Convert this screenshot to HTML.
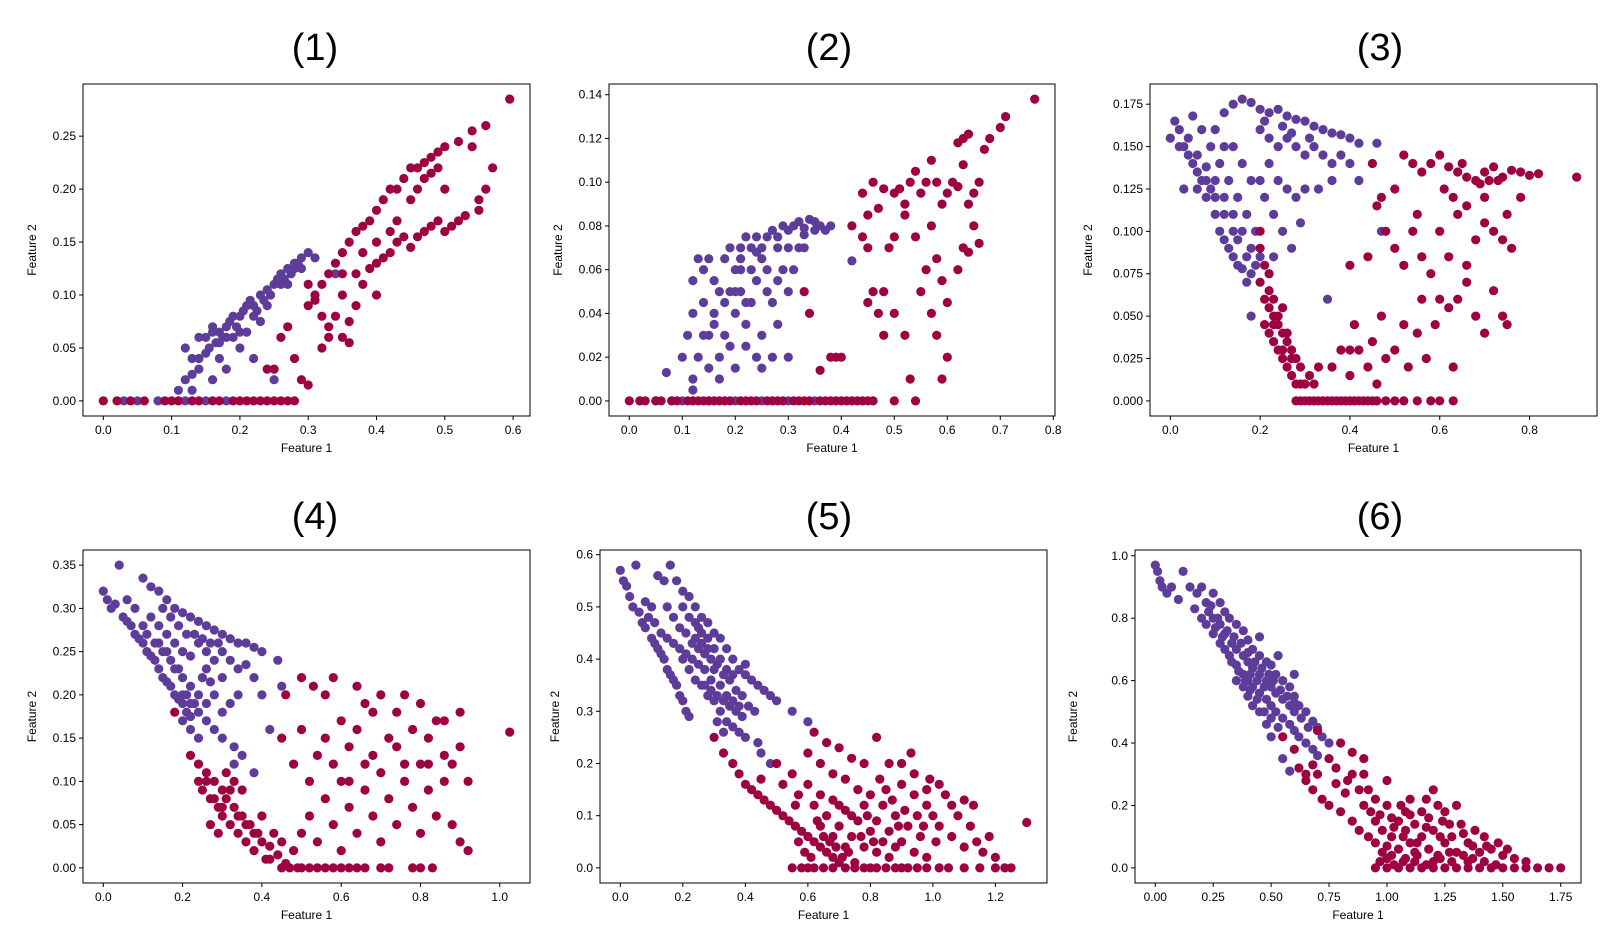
<!DOCTYPE html>
<html><head><meta charset="utf-8">
<style>
body{margin:0;background:#fff;}
svg{display:block;font-family:"Liberation Sans","DejaVu Sans",sans-serif;}
</style></head>
<body>
<svg id="fig" width="1620" height="932" viewBox="0 0 1620 932"></svg>
<script>
// ---------- data ----------
const panelTitles = ["(1)","(2)","(3)","(4)","(5)","(6)"];
const xTicks = [[0,0.1,0.2,0.3,0.4,0.5,0.6],[0,0.1,0.2,0.3,0.4,0.5,0.6,0.7,0.8],[0,0.2,0.4,0.6,0.8],[0,0.2,0.4,0.6,0.8,1.0],[0,0.2,0.4,0.6,0.8,1.0,1.2],[0,0.25,0.5,0.75,1.0,1.25,1.5,1.75]];
const xTickLabels = [["0.0","0.1","0.2","0.3","0.4","0.5","0.6"],["0.0","0.1","0.2","0.3","0.4","0.5","0.6","0.7","0.8"],["0.0","0.2","0.4","0.6","0.8"],["0.0","0.2","0.4","0.6","0.8","1.0"],["0.0","0.2","0.4","0.6","0.8","1.0","1.2"],["0.00","0.25","0.50","0.75","1.00","1.25","1.50","1.75"]];
const yTicks = [[0,0.05,0.1,0.15,0.2,0.25],[0,0.02,0.04,0.06,0.08,0.1,0.12,0.14],[0,0.025,0.05,0.075,0.1,0.125,0.15,0.175],[0,0.05,0.1,0.15,0.2,0.25,0.3,0.35],[0,0.1,0.2,0.3,0.4,0.5,0.6],[0,0.2,0.4,0.6,0.8,1.0]];
const yTickLabels = [["0.00","0.05","0.10","0.15","0.20","0.25"],["0.00","0.02","0.04","0.06","0.08","0.10","0.12","0.14"],["0.000","0.025","0.050","0.075","0.100","0.125","0.150","0.175"],["0.00","0.05","0.10","0.15","0.20","0.25","0.30","0.35"],["0.0","0.1","0.2","0.3","0.4","0.5","0.6"],["0.0","0.2","0.4","0.6","0.8","1.0"]];

const p1Purple = [0.12,0.05,0.13,0.04,0.14,0.06,0.15,0.06,0.16,0.07,0.17,0.065,0.18,0.07,0.19,0.08,0.2,0.08,0.21,0.09,0.22,0.09,0.23,0.1,0.24,0.105,0.25,0.11,0.26,0.12,0.27,0.125,0.28,0.13,0.29,0.135,0.3,0.14,0.155,0.05,0.165,0.055,0.175,0.06,0.185,0.075,0.195,0.07,0.205,0.085,0.215,0.095,0.225,0.085,0.235,0.095,0.245,0.1,0.255,0.115,0.265,0.115,0.275,0.12,0.285,0.13,0.31,0.135,0.12,0.02,0.13,0.01,0.14,0.03,0.16,0.02,0.17,0.04,0.18,0.03,0.2,0.05,0.22,0.04,0.25,0.02,0.11,0.01,0.15,0.0,0.05,0,0.03,0,0.08,0,0.12,0,0.18,0,0.21,0.065,0.23,0.075,0.16,0.065,0.19,0.06,0.26,0.11,0.28,0.125,0.34,0.12,0.17,0.055,0.18,0.06,0.2,0.065,0.22,0.08,0.24,0.09,0.27,0.11,0.29,0.125,0.15,0.045,0.14,0.04,0.13,0.025];
const p1Red = [0,0,0.02,0,0.04,0,0.06,0,0.09,0,0.1,0,0.11,0,0.13,0,0.14,0,0.16,0,0.17,0,0.19,0,0.2,0,0.21,0,0.22,0,0.23,0,0.24,0,0.25,0,0.26,0,0.27,0,0.28,0,0.3,0.09,0.31,0.1,0.32,0.11,0.33,0.12,0.34,0.13,0.35,0.14,0.36,0.15,0.37,0.16,0.38,0.165,0.39,0.17,0.4,0.18,0.41,0.19,0.42,0.2,0.43,0.2,0.44,0.21,0.45,0.22,0.46,0.22,0.47,0.225,0.48,0.23,0.49,0.235,0.5,0.24,0.52,0.245,0.54,0.255,0.56,0.26,0.595,0.285,0.35,0.1,0.37,0.12,0.38,0.11,0.39,0.125,0.4,0.13,0.41,0.135,0.42,0.14,0.43,0.15,0.44,0.155,0.45,0.145,0.46,0.155,0.47,0.16,0.48,0.165,0.49,0.17,0.5,0.16,0.51,0.165,0.52,0.17,0.53,0.175,0.55,0.18,0.56,0.2,0.57,0.22,0.3,0.11,0.32,0.08,0.33,0.07,0.34,0.08,0.35,0.06,0.32,0.05,0.33,0.06,0.28,0.04,0.27,0.07,0.26,0.06,0.25,0.03,0.24,0.03,0.29,0.02,0.3,0.015,0.36,0.075,0.37,0.09,0.4,0.1,0.43,0.17,0.46,0.2,0.48,0.215,0.5,0.2,0.54,0.24,0.55,0.19,0.36,0.055,0.38,0.14,0.4,0.15,0.42,0.16,0.45,0.19,0.47,0.21,0.49,0.22,0.35,0.12,0.31,0.095];

const p2Purple = [0.1,0.02,0.11,0.03,0.12,0.04,0.12,0.055,0.13,0.065,0.14,0.06,0.14,0.045,0.15,0.03,0.15,0.065,0.16,0.055,0.16,0.04,0.17,0.05,0.17,0.02,0.18,0.065,0.18,0.03,0.19,0.07,0.19,0.05,0.2,0.04,0.2,0.06,0.21,0.07,0.21,0.05,0.22,0.075,0.22,0.035,0.23,0.06,0.23,0.045,0.24,0.075,0.24,0.055,0.25,0.07,0.25,0.03,0.26,0.075,0.26,0.06,0.27,0.078,0.27,0.045,0.28,0.07,0.28,0.035,0.29,0.08,0.29,0.06,0.3,0.078,0.3,0.05,0.31,0.08,0.32,0.082,0.32,0.07,0.33,0.079,0.34,0.083,0.35,0.082,0.36,0.08,0.37,0.078,0.38,0.08,0.13,0.02,0.15,0.015,0.17,0.01,0.2,0.015,0.22,0.025,0.25,0.015,0.27,0.02,0.07,0.013,0.12,0.01,0.3,0.02,0.24,0.02,0.19,0.025,0.16,0.035,0.14,0.03,0.2,0.05,0.23,0.07,0.26,0.05,0.28,0.055,0.31,0.06,0.33,0.07,0.21,0.06,0.18,0.045,0.12,0.005,0.02,0,0.05,0,0.1,0,0.15,0,0.2,0,0.25,0,0.3,0,0.35,0,0.42,0.064,0.08,0,0.22,0.045,0.25,0.065,0.28,0.075,0.3,0.07,0.33,0.076,0.35,0.078,0.24,0.068,0.21,0.065];
const p2Red = [0,0,0.03,0,0.06,0,0.09,0,0.12,0,0.14,0,0.16,0,0.18,0,0.21,0,0.23,0,0.26,0,0.28,0,0.31,0,0.33,0,0.36,0,0.38,0,0.4,0,0.42,0,0.44,0,0.46,0,0.5,0,0.54,0,0.02,0,0.05,0,0.08,0,0.11,0,0.13,0,0.15,0,0.17,0,0.19,0,0.22,0,0.24,0,0.27,0,0.29,0,0.32,0,0.34,0,0.37,0,0.39,0,0.41,0,0.43,0,0.45,0,0.33,0.05,0.34,0.04,0.38,0.02,0.39,0.02,0.36,0.014,0.4,0.02,0.42,0.08,0.44,0.075,0.44,0.095,0.45,0.085,0.46,0.1,0.47,0.088,0.48,0.097,0.5,0.095,0.51,0.097,0.52,0.09,0.53,0.1,0.54,0.105,0.55,0.095,0.56,0.1,0.57,0.11,0.58,0.1,0.59,0.09,0.6,0.095,0.61,0.1,0.62,0.098,0.63,0.108,0.64,0.09,0.65,0.095,0.66,0.1,0.62,0.118,0.63,0.12,0.64,0.122,0.67,0.115,0.68,0.12,0.7,0.125,0.71,0.13,0.765,0.138,0.45,0.07,0.46,0.05,0.47,0.04,0.48,0.05,0.5,0.04,0.52,0.03,0.53,0.01,0.55,0.05,0.57,0.04,0.58,0.065,0.59,0.055,0.6,0.045,0.62,0.06,0.63,0.07,0.64,0.068,0.65,0.08,0.56,0.06,0.58,0.03,0.6,0.02,0.59,0.01,0.49,0.07,0.5,0.075,0.54,0.075,0.57,0.08,0.66,0.072,0.45,0.045,0.52,0.085,0.48,0.03];

const p3Purple = [0.0,0.155,0.01,0.165,0.02,0.16,0.03,0.15,0.04,0.145,0.05,0.14,0.06,0.135,0.07,0.13,0.08,0.12,0.09,0.125,0.1,0.11,0.11,0.1,0.12,0.095,0.13,0.09,0.14,0.085,0.15,0.08,0.16,0.078,0.17,0.07,0.18,0.075,0.06,0.145,0.08,0.138,0.1,0.13,0.12,0.12,0.14,0.11,0.16,0.1,0.18,0.09,0.2,0.085,0.13,0.13,0.15,0.12,0.17,0.11,0.19,0.1,0.11,0.14,0.09,0.15,0.07,0.16,0.05,0.168,0.12,0.17,0.14,0.175,0.16,0.178,0.18,0.176,0.2,0.172,0.22,0.17,0.24,0.172,0.26,0.168,0.28,0.166,0.3,0.165,0.32,0.162,0.34,0.16,0.36,0.158,0.38,0.157,0.4,0.155,0.42,0.152,0.46,0.152,0.2,0.16,0.22,0.155,0.24,0.15,0.26,0.155,0.28,0.15,0.3,0.145,0.32,0.15,0.34,0.145,0.36,0.14,0.38,0.145,0.4,0.14,0.22,0.14,0.24,0.13,0.26,0.125,0.28,0.12,0.3,0.125,0.33,0.125,0.36,0.13,0.21,0.12,0.23,0.11,0.25,0.1,0.27,0.09,0.18,0.13,0.2,0.13,0.16,0.14,0.14,0.15,0.12,0.15,0.1,0.16,0.42,0.13,0.29,0.105,0.47,0.1,0.35,0.06,0.23,0.085,0.18,0.05,0.02,0.15,0.03,0.125,0.04,0.155,0.06,0.125,0.08,0.13,0.1,0.12,0.12,0.11,0.14,0.1,0.15,0.095,0.17,0.085,0.19,0.08,0.21,0.165,0.25,0.162,0.27,0.158,0.31,0.155];
const p3Red = [0.2,0.1,0.21,0.08,0.22,0.075,0.2,0.07,0.21,0.06,0.22,0.055,0.23,0.05,0.21,0.045,0.22,0.04,0.23,0.035,0.24,0.045,0.25,0.04,0.24,0.03,0.25,0.025,0.26,0.02,0.27,0.03,0.27,0.015,0.28,0.01,0.29,0.02,0.3,0.01,0.25,0.055,0.23,0.06,0.26,0.035,0.28,0.025,0.31,0.015,0.32,0.01,0.33,0.02,0.28,0,0.29,0,0.3,0,0.31,0,0.32,0,0.33,0,0.34,0,0.35,0,0.36,0,0.37,0,0.38,0,0.39,0,0.4,0,0.41,0,0.42,0,0.43,0,0.44,0,0.45,0,0.46,0,0.48,0,0.5,0,0.52,0,0.55,0,0.58,0,0.6,0,0.63,0,0.36,0.02,0.38,0.03,0.4,0.015,0.41,0.045,0.42,0.03,0.44,0.02,0.45,0.035,0.46,0.01,0.47,0.05,0.48,0.025,0.5,0.03,0.52,0.045,0.53,0.02,0.55,0.04,0.56,0.06,0.57,0.025,0.59,0.045,0.6,0.06,0.62,0.055,0.64,0.06,0.66,0.07,0.68,0.05,0.7,0.04,0.72,0.065,0.74,0.05,0.75,0.045,0.4,0.08,0.44,0.085,0.48,0.1,0.5,0.09,0.52,0.08,0.54,0.1,0.56,0.085,0.58,0.075,0.6,0.1,0.62,0.085,0.64,0.11,0.66,0.08,0.68,0.095,0.7,0.105,0.72,0.1,0.74,0.095,0.76,0.09,0.52,0.145,0.54,0.14,0.56,0.135,0.58,0.14,0.6,0.145,0.62,0.138,0.64,0.135,0.66,0.132,0.68,0.13,0.7,0.135,0.72,0.138,0.74,0.132,0.76,0.136,0.78,0.135,0.8,0.133,0.82,0.134,0.905,0.132,0.61,0.125,0.63,0.12,0.66,0.115,0.7,0.12,0.75,0.11,0.78,0.12,0.45,0.14,0.47,0.12,0.5,0.125,0.55,0.11,0.46,0.115,0.4,0.03,0.63,0.02,0.2,0.09,0.22,0.065,0.24,0.05,0.26,0.04,0.23,0.045,0.25,0.03,0.27,0.025,0.29,0.01,0.69,0.128,0.71,0.13,0.73,0.13,0.65,0.14];

const p4Purple = [0,0.32,0.01,0.31,0.02,0.3,0.03,0.305,0.04,0.35,0.05,0.29,0.06,0.285,0.07,0.28,0.08,0.27,0.09,0.265,0.1,0.26,0.11,0.25,0.12,0.245,0.13,0.24,0.14,0.23,0.15,0.22,0.16,0.215,0.17,0.21,0.18,0.2,0.19,0.195,0.2,0.19,0.21,0.18,0.22,0.175,0.1,0.335,0.12,0.325,0.14,0.32,0.16,0.31,0.18,0.3,0.2,0.295,0.22,0.29,0.24,0.285,0.26,0.28,0.28,0.275,0.3,0.27,0.32,0.265,0.34,0.26,0.36,0.26,0.38,0.255,0.4,0.25,0.44,0.24,0.12,0.29,0.14,0.28,0.16,0.27,0.18,0.26,0.2,0.25,0.22,0.245,0.24,0.26,0.26,0.25,0.28,0.24,0.3,0.25,0.32,0.24,0.34,0.23,0.36,0.235,0.38,0.22,0.18,0.23,0.2,0.22,0.22,0.21,0.24,0.2,0.26,0.19,0.28,0.2,0.3,0.18,0.32,0.19,0.2,0.17,0.22,0.16,0.24,0.15,0.26,0.17,0.28,0.16,0.3,0.15,0.33,0.14,0.35,0.13,0.4,0.2,0.42,0.16,0.45,0.21,0.38,0.11,0.33,0.12,0.16,0.25,0.14,0.26,0.08,0.3,0.06,0.31,0.26,0.23,0.3,0.22,0.34,0.2,0.15,0.3,0.17,0.29,0.19,0.28,0.21,0.27,0.23,0.27,0.25,0.265,0.27,0.26,0.29,0.26,0.2,0.2,0.22,0.19,0.24,0.18,0.25,0.22,0.27,0.215,0.1,0.28,0.11,0.27,0.13,0.26,0.15,0.25,0.17,0.24,0.19,0.23,0.21,0.2,0.23,0.19];
const p4Red = [0.18,0.18,0.22,0.13,0.24,0.12,0.26,0.11,0.25,0.09,0.27,0.08,0.28,0.1,0.29,0.07,0.3,0.09,0.3,0.06,0.31,0.08,0.32,0.05,0.33,0.07,0.34,0.04,0.35,0.06,0.36,0.03,0.37,0.05,0.38,0.02,0.39,0.04,0.4,0.03,0.41,0.01,0.42,0.025,0.43,0.04,0.44,0.015,0.45,0.03,0.46,0.005,0.33,0.1,0.35,0.09,0.31,0.11,0.29,0.04,0.27,0.05,0.45,0,0.47,0,0.49,0,0.5,0,0.52,0,0.54,0,0.56,0,0.58,0,0.6,0,0.62,0,0.64,0,0.66,0,0.7,0,0.72,0,0.78,0,0.8,0,0.83,0,0.48,0.02,0.5,0.04,0.52,0.06,0.54,0.03,0.56,0.08,0.58,0.05,0.6,0.1,0.6,0.02,0.62,0.07,0.64,0.04,0.66,0.09,0.68,0.06,0.7,0.11,0.7,0.03,0.72,0.08,0.74,0.05,0.76,0.1,0.78,0.07,0.8,0.12,0.8,0.04,0.82,0.09,0.84,0.06,0.86,0.1,0.88,0.05,0.9,0.03,0.92,0.02,0.52,0.1,0.54,0.13,0.56,0.15,0.58,0.12,0.6,0.17,0.62,0.14,0.64,0.16,0.66,0.19,0.68,0.13,0.7,0.2,0.72,0.15,0.74,0.18,0.76,0.2,0.78,0.16,0.8,0.19,0.82,0.15,0.84,0.17,0.86,0.13,0.88,0.12,0.9,0.18,0.92,0.1,0.48,0.12,0.5,0.16,0.5,0.22,0.53,0.21,0.56,0.2,0.58,0.22,0.64,0.21,0.68,0.18,0.74,0.14,0.82,0.12,0.86,0.17,1.025,0.157,0.45,0.15,0.46,0.2,0.62,0.1,0.66,0.12,0.76,0.12,0.9,0.14,0.3,0.07,0.32,0.09,0.34,0.06,0.36,0.05,0.38,0.04,0.4,0.06,0.42,0.01,0.28,0.08,0.26,0.1,0.24,0.1];

const p5Purple = [0,0.57,0.01,0.55,0.02,0.54,0.03,0.52,0.04,0.5,0.05,0.58,0.06,0.49,0.07,0.47,0.08,0.46,0.1,0.44,0.11,0.43,0.12,0.42,0.13,0.41,0.14,0.4,0.15,0.38,0.16,0.37,0.17,0.36,0.18,0.35,0.19,0.33,0.2,0.32,0.21,0.3,0.22,0.29,0.12,0.56,0.14,0.55,0.16,0.58,0.18,0.55,0.2,0.53,0.22,0.52,0.24,0.5,0.26,0.48,0.28,0.47,0.3,0.45,0.32,0.44,0.34,0.42,0.36,0.4,0.38,0.38,0.4,0.37,0.42,0.36,0.44,0.35,0.46,0.34,0.48,0.33,0.5,0.32,0.55,0.3,0.6,0.28,0.15,0.5,0.17,0.48,0.19,0.46,0.21,0.45,0.23,0.43,0.25,0.42,0.27,0.41,0.29,0.4,0.31,0.39,0.33,0.37,0.35,0.36,0.37,0.34,0.39,0.33,0.41,0.31,0.43,0.3,0.2,0.4,0.22,0.38,0.24,0.36,0.26,0.35,0.28,0.33,0.3,0.32,0.32,0.3,0.34,0.28,0.36,0.27,0.38,0.26,0.3,0.42,0.32,0.4,0.34,0.38,0.36,0.37,0.27,0.38,0.29,0.36,0.31,0.28,0.33,0.26,0.4,0.25,0.44,0.24,0.48,0.2,0.45,0.22,0.1,0.5,0.08,0.51,0.25,0.46,0.4,0.39,0.09,0.48,0.11,0.47,0.13,0.45,0.15,0.44,0.17,0.43,0.19,0.42,0.21,0.41,0.23,0.4,0.25,0.39,0.27,0.35,0.29,0.34,0.31,0.33,0.33,0.32,0.35,0.31,0.37,0.3,0.39,0.29,0.24,0.44,0.26,0.43,0.28,0.42,0.3,0.38,0.32,0.35,0.34,0.33,0.36,0.32,0.38,0.31,0.2,0.5,0.22,0.48,0.24,0.47,0.26,0.45,0.28,0.44];
const p5Red = [0.3,0.25,0.33,0.22,0.36,0.2,0.38,0.18,0.4,0.16,0.42,0.15,0.44,0.14,0.46,0.13,0.48,0.12,0.5,0.11,0.52,0.1,0.54,0.09,0.56,0.08,0.58,0.07,0.6,0.06,0.62,0.05,0.64,0.04,0.66,0.03,0.68,0.02,0.7,0.01,0.55,0,0.58,0,0.6,0,0.62,0,0.65,0,0.68,0,0.72,0,0.75,0,0.78,0,0.8,0,0.82,0,0.85,0,0.88,0,0.9,0,0.92,0,0.95,0,0.98,0,1.02,0,1.05,0,1.1,0,1.15,0,1.2,0,1.23,0,1.25,0,0.5,0.2,0.52,0.16,0.55,0.18,0.57,0.14,0.6,0.16,0.62,0.12,0.64,0.14,0.66,0.1,0.68,0.13,0.7,0.08,0.72,0.11,0.74,0.06,0.76,0.09,0.78,0.04,0.8,0.07,0.82,0.03,0.84,0.05,0.86,0.02,0.88,0.04,0.6,0.22,0.62,0.26,0.64,0.2,0.66,0.24,0.68,0.18,0.7,0.23,0.72,0.17,0.74,0.21,0.76,0.15,0.78,0.2,0.8,0.14,0.82,0.25,0.84,0.12,0.86,0.2,0.88,0.1,0.9,0.16,0.92,0.08,0.94,0.14,0.96,0.06,0.98,0.12,1.0,0.1,1.02,0.08,1.04,0.14,1.06,0.06,1.08,0.1,1.1,0.04,1.12,0.08,1.14,0.05,1.16,0.03,1.18,0.06,1.2,0.02,0.9,0.2,0.94,0.18,0.98,0.15,1.02,0.16,1.06,0.12,1.1,0.13,1.13,0.12,0.7,0.12,0.74,0.1,0.78,0.12,0.82,0.09,0.86,0.07,0.9,0.05,0.94,0.03,0.98,0.02,1.3,0.087,0.64,0.08,0.68,0.06,0.72,0.04,0.56,0.12,0.45,0.17,0.57,0.05,0.59,0.03,0.61,0.02,0.63,0.09,0.65,0.06,0.67,0.05,0.69,0.04,0.71,0.02,0.73,0.03,0.75,0.01,0.77,0.06,0.79,0.1,0.81,0.05,0.83,0.17,0.85,0.15,0.87,0.13,0.89,0.08,0.91,0.11,0.93,0.22,0.95,0.1,0.97,0.08,0.99,0.17,1.01,0.05];

const p6Purple = [0,0.97,0.01,0.95,0.02,0.92,0.03,0.9,0.05,0.88,0.07,0.9,0.1,0.86,0.12,0.95,0.15,0.9,0.17,0.83,0.2,0.8,0.22,0.78,0.25,0.75,0.28,0.72,0.3,0.7,0.32,0.68,0.35,0.65,0.38,0.62,0.4,0.6,0.42,0.58,0.45,0.56,0.48,0.54,0.5,0.52,0.52,0.5,0.55,0.48,0.58,0.46,0.6,0.44,0.62,0.42,0.65,0.4,0.68,0.38,0.7,0.36,0.2,0.9,0.25,0.88,0.28,0.85,0.3,0.82,0.32,0.8,0.35,0.78,0.38,0.76,0.4,0.73,0.42,0.7,0.45,0.68,0.48,0.66,0.5,0.65,0.52,0.62,0.55,0.6,0.58,0.58,0.6,0.55,0.62,0.52,0.65,0.5,0.68,0.47,0.7,0.45,0.72,0.42,0.75,0.4,0.25,0.8,0.28,0.78,0.3,0.75,0.33,0.72,0.35,0.7,0.38,0.68,0.4,0.66,0.42,0.64,0.45,0.62,0.48,0.6,0.5,0.58,0.52,0.56,0.55,0.54,0.58,0.52,0.6,0.5,0.35,0.6,0.38,0.58,0.4,0.55,0.42,0.52,0.45,0.5,0.48,0.46,0.5,0.42,0.55,0.35,0.58,0.31,0.22,0.85,0.18,0.88,0.45,0.74,0.53,0.68,0.6,0.62,0.23,0.82,0.27,0.8,0.31,0.76,0.34,0.74,0.37,0.72,0.4,0.69,0.43,0.66,0.46,0.64,0.49,0.62,0.51,0.6,0.54,0.57,0.57,0.55,0.6,0.53,0.63,0.48,0.66,0.45,0.33,0.66,0.36,0.63,0.39,0.6,0.41,0.57,0.44,0.54,0.47,0.5,0.5,0.48,0.53,0.45,0.29,0.74,0.26,0.77,0.24,0.84,0.41,0.62,0.44,0.6,0.47,0.58];
const p6Red = [0.55,0.42,0.6,0.38,0.62,0.32,0.65,0.28,0.68,0.25,0.7,0.3,0.72,0.22,0.75,0.35,0.75,0.2,0.78,0.27,0.8,0.18,0.82,0.24,0.85,0.15,0.85,0.3,0.88,0.12,0.9,0.2,0.92,0.1,0.95,0.08,0.98,0.05,1.0,0.03,0.95,0,1.0,0,1.05,0,1.1,0,1.15,0,1.2,0,1.25,0,1.3,0,1.35,0,1.4,0,1.45,0,1.5,0,1.55,0,1.6,0,1.65,0,1.7,0,1.75,0,0.95,0.15,0.98,0.12,1.0,0.2,1.02,0.1,1.05,0.15,1.05,0.06,1.08,0.12,1.1,0.08,1.1,0.22,1.12,0.05,1.15,0.1,1.15,0.18,1.18,0.06,1.2,0.12,1.2,0.25,1.22,0.04,1.25,0.08,1.25,0.18,1.28,0.1,1.3,0.05,1.3,0.2,1.32,0.14,1.35,0.08,1.38,0.12,1.4,0.05,1.42,0.1,1.45,0.06,1.48,0.08,1.5,0.04,1.52,0.06,1.55,0.03,1.6,0.02,0.9,0.3,0.92,0.25,0.95,0.22,1.0,0.28,1.02,0.16,1.08,0.18,1.12,0.14,1.18,0.16,1.22,0.2,0.8,0.4,0.85,0.37,0.9,0.35,0.7,0.44,0.65,0.3,0.68,0.33,1.0,0.07,1.08,0.03,1.12,0.02,1.2,0.02,1.28,0.02,1.35,0.02,0.97,0.02,1.02,0.04,1.03,0.01,1.07,0.02,1.13,0.04,1.17,0.01,1.23,0.03,1.27,0.05,1.33,0.04,1.37,0.03,1.42,0.02,1.47,0.01,0.93,0.18,0.97,0.17,1.03,0.13,1.07,0.1,1.13,0.08,1.17,0.13,1.23,0.1,1.27,0.14,1.33,0.11,1.37,0.07,1.43,0.07,1.17,0.22,1.24,0.15,1.1,0.17,1.06,0.2,0.88,0.25,0.83,0.28,0.78,0.32];

const purpleSets = [p1Purple,p2Purple,p3Purple,p4Purple,p5Purple,p6Purple];
const redSets = [p1Red,p2Red,p3Red,p4Red,p5Red,p6Red];

// ---------- layout ----------
const boxes = [
  {l:83,r:530,t:84,b:416,tx:315,ty:47},
  {l:609,r:1055,t:84,b:416,tx:829,ty:47},
  {l:1150,r:1597,t:84,b:416,tx:1380,ty:47},
  {l:83,r:530,t:550,b:883,tx:315,ty:516},
  {l:600,r:1047,t:550,b:883,tx:829,ty:516},
  {l:1135,r:1581,t:550,b:883,tx:1380,ty:516}
];
const NS="http://www.w3.org/2000/svg";
const fig=document.getElementById('fig');
function mk(tag,attrs,parent){const e=document.createElementNS(NS,tag);for(const k in attrs)e.setAttribute(k,attrs[k]);(parent||fig).appendChild(e);return e;}

for(let i=0;i<6;i++){
  const B=boxes[i];
  const all=purpleSets[i].concat(redSets[i]);
  let xmin=Infinity,xmax=-Infinity,ymin=Infinity,ymax=-Infinity;
  for(let j=0;j<all.length;j+=2){xmin=Math.min(xmin,all[j]);xmax=Math.max(xmax,all[j]);ymin=Math.min(ymin,all[j+1]);ymax=Math.max(ymax,all[j+1]);}
  const dx=(xmax-xmin)*0.05,dy=(ymax-ymin)*0.05;
  const x0=xmin-dx,x1=xmax+dx,y0=ymin-dy,y1=ymax+dy;
  const sx=v=>B.l+(v-x0)/(x1-x0)*(B.r-B.l);
  const sy=v=>B.b-(v-y0)/(y1-y0)*(B.b-B.t);
  const g=mk('g',{});
  
  
  const title=mk('text',{x:B.tx,y:B.ty+13,'font-size':38,'text-anchor':'middle',fill:'#000'},g);
  title.textContent=panelTitles[i];
  
  
  const pts=mk('g',{},g);
  
  
  [[purpleSets[i],'#5e3c99','class-purple'],[redSets[i],'#9e0142','class-red']].forEach(([arr,col,nm])=>{
    for(let j=0;j<arr.length;j+=2){
      const c=mk('circle',{cx:sx(arr[j]).toFixed(1),cy:sy(arr[j+1]).toFixed(1),r:4.6,fill:col},pts);
      
      
    }
  });
  const frame=mk('rect',{x:B.l,y:B.t,width:B.r-B.l,height:B.b-B.t,fill:'none',stroke:'#000','stroke-width':1},g);
  
  
  xTicks[i].forEach((v,k)=>{
    const x=sx(v);
    mk('line',{x1:x,x2:x,y1:B.b,y2:B.b+4,stroke:'#000'},g);
    const t=mk('text',{x:x,y:B.b+18,'font-size':12,'text-anchor':'middle',fill:'#000'},g);
    t.textContent=xTickLabels[i][k];
    
    
  });
  yTicks[i].forEach((v,k)=>{
    const y=sy(v);
    mk('line',{x1:B.l-4,x2:B.l,y1:y,y2:y,stroke:'#000'},g);
    const t=mk('text',{x:B.l-7,y:y+4,'font-size':12,'text-anchor':'end',fill:'#000'},g);
    t.textContent=yTickLabels[i][k];
    
    
  });
  const xl=mk('text',{x:(B.l+B.r)/2,y:B.b+36,'font-size':12,'text-anchor':'middle',fill:'#000'},g);
  xl.textContent='Feature 1';
  
  
  const yx=B.l-(i===2||i===5?58:47)+(i===4?6:0), yy=(B.t+B.b)/2;
  const yl=mk('text',{x:yx,y:yy,'font-size':12,'text-anchor':'middle',fill:'#000',transform:`rotate(-90 ${yx} ${yy})`},g);
  yl.textContent='Feature 2';
  
  
}
</script>
</body></html>
